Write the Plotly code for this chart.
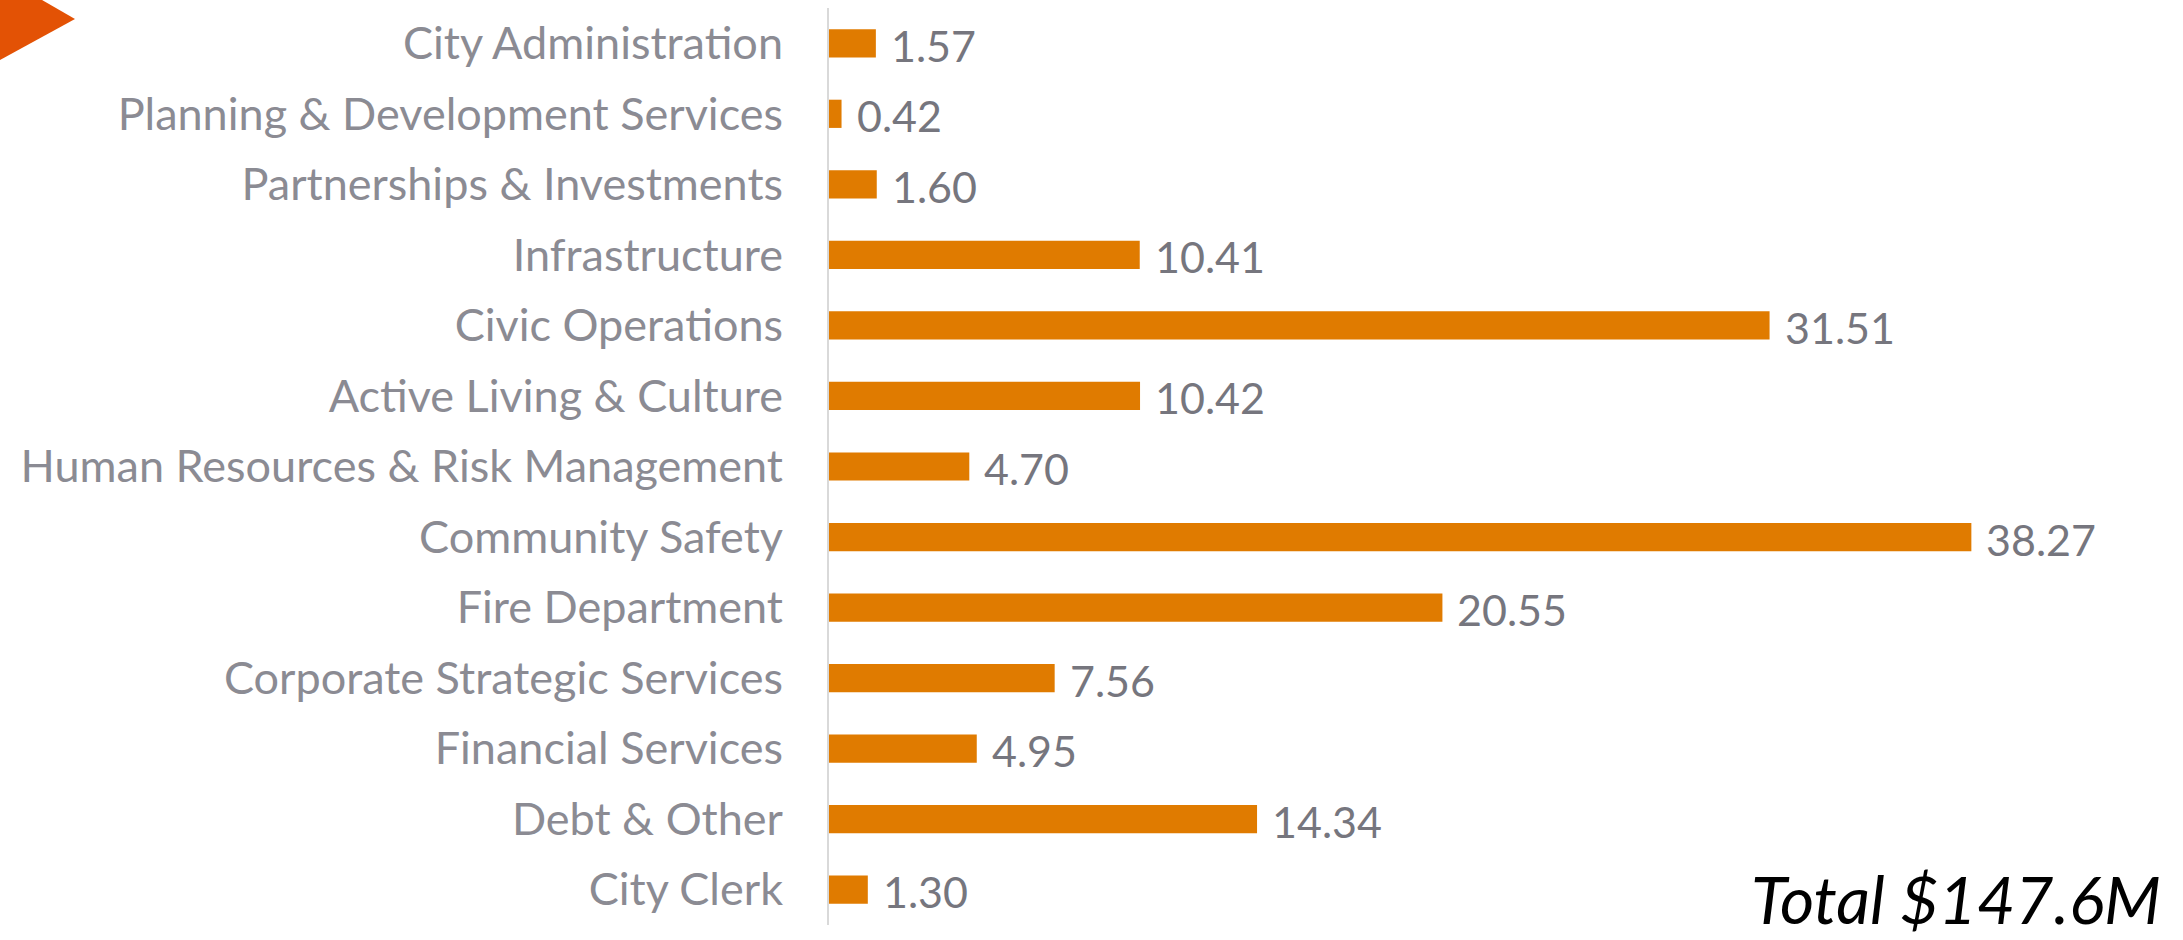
import plotly.graph_objects as go

categories = [
    "City Administration",
    "Planning & Development Services",
    "Partnerships & Investments",
    "Infrastructure",
    "Civic Operations",
    "Active Living & Culture",
    "Human Resources & Risk Management",
    "Community Safety",
    "Fire Department",
    "Corporate Strategic Services",
    "Financial Services",
    "Debt & Other",
    "City Clerk",
]
values = [1.57, 0.42, 1.60, 10.41, 31.51, 10.42, 4.70, 38.27, 20.55, 7.56, 4.95, 14.34, 1.30]
total_label = "Total $147.6M"

W, H = 2183, 940
L, R, T, B = 829, 33, 8, 15
FONT = "Lato"

fig = go.Figure()
fig.add_trace(go.Bar(
    x=values, y=categories, orientation="h",
    marker=dict(color="#E07B00", line=dict(width=0)),
    width=0.4,
    hoverinfo="x+y",
))

for c, v in zip(categories, values):
    fig.add_annotation(
        x=v, y=c, xref="x", yref="y",
        text=f"{v:.2f}", showarrow=False,
        xanchor="left", yanchor="middle", xshift=13, yshift=-2,
        font=dict(family=FONT, size=43, color="#76767e"),
    )

pw = W - L - R
ph = H - T - B
fig.add_annotation(
    xref="paper", yref="paper", x=(2162 - L) / pw, y=(H - B - 939) / ph,
    text=total_label, showarrow=False, xanchor="right", yanchor="bottom",
    borderpad=0,
    font=dict(family=FONT, size=66, color="#000000", style="italic"),
)

# decorative triangle at top-left (pixel positions converted to paper coords)
def px(xp):
    return (xp - L) / pw
def py(yp):
    return 1 - (yp - T) / ph
fig.add_shape(
    type="path", xref="paper", yref="paper",
    path=f"M {px(-10)} {py(-30)} L {px(75)} {py(19)} L {px(-10)} {py(65.5)} Z",
    fillcolor="#E35205", line=dict(width=0),
)

fig.update_layout(
    width=W, height=H,
    margin=dict(l=L, r=R, t=T, b=B),
    paper_bgcolor="white", plot_bgcolor="white",
    showlegend=False,
    xaxis=dict(range=[0, pw / 29.85], visible=False, showgrid=False, zeroline=False),
    yaxis=dict(
        autorange="reversed", type="category",
        showline=True, linecolor="#d9d9d9", linewidth=2,
        showgrid=False, ticks="", ticklabelstandoff=35,
        tickfont=dict(family=FONT, size=45, color="#8b8b93"),
    ),
)

fig.write_html(
    "out.html",
    config={"displayModeBar": False},
    post_script="document.body.style.margin='0';document.body.style.overflow='hidden';",
)
